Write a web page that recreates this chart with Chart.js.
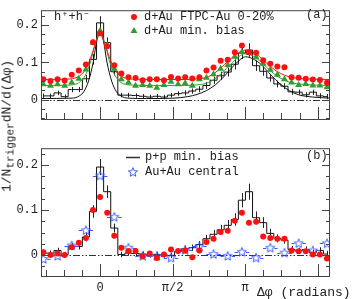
<!DOCTYPE html>
<html>
<head>
<meta charset="utf-8">
<script src="https://cdn.jsdelivr.net/npm/chart.js@4.4.0/dist/chart.umd.min.js"></script>
<style>
  html, body { margin: 0; padding: 0; background: #fff; }
  #wrap { position: relative; width: 352px; height: 299px; overflow: hidden; }
  #panelA { position: absolute; left: 0; top: 0; }
  #panelB { position: absolute; left: 0; top: 138px; }
  #ytitle {
    position: absolute; left: 8px; top: 126px;
    transform: translate(-50%, -50%) rotate(-90deg);
    white-space: nowrap; font: 13px "Liberation Mono", monospace; color: #222;
  }
  #ytitle sub { font-size: 11px; vertical-align: -3px; }
</style>
</head>
<body>
<div id="wrap">
  <canvas id="panelA" width="352" height="144"></canvas>
  <canvas id="panelB" width="352" height="161"></canvas>
  <div id="ytitle">1/N<sub>trigger</sub>dN/d(Δφ)</div>
</div>
<script>
// bins in Δφ (rad), 41 bins, centre of bin 8 is at 0
const BIN = 0.1536;
const phi = Array.from({ length: 41 }, (_, i) => +((i - 8) * BIN).toFixed(4));

// panel (a)
const dAuCentral = [0.055,0.050,0.055,0.051,0.067,0.078,0.094,0.154,0.178,
  0.143,0.092,0.070,0.060,0.058,0.052,0.055,0.055,0.052,0.061,
  0.057,0.060,0.057,0.060,0.078,0.086,0.104,0.107,0.127,0.145,
  0.127,0.126,0.106,0.096,0.089,0.087,0.060,0.059,0.056,0.054,0.053,0.045];
const dAuMinBias = [0.041,0.037,0.041,0.037,0.046,0.056,0.081,0.153,0.185,
  0.146,0.083,0.055,0.046,0.037,0.039,0.037,0.032,0.039,0.048,
  0.041,0.044,0.037,0.055,0.059,0.068,0.083,0.093,0.115,0.128,
  0.125,0.114,0.096,0.080,0.067,0.055,0.046,0.039,0.042,0.038,0.038,0.033];
const ppA = [0.010,0.010,0.018,0.008,0.027,0.027,0.056,0.108,0.206,
  0.153,0.075,0.012,0.012,0.011,0.009,0.007,0.009,0.007,0.012,
  0.016,0.018,0.023,0.028,0.038,0.052,0.064,0.074,0.095,0.125,
  0.133,0.091,0.076,0.058,0.042,0.036,0.021,0.020,0.013,0.020,0.010,0.008];
const ppErr = [0.006,0.006,0.006,0.006,0.007,0.007,0.010,0.014,0.018,
  0.014,0.010,0.006,0.006,0.006,0.006,0.006,0.006,0.006,0.006,
  0.006,0.007,0.007,0.008,0.009,0.010,0.011,0.012,0.014,0.016,
  0.018,0.014,0.012,0.010,0.009,0.008,0.008,0.007,0.007,0.007,0.007,0.007];

// fit curves
const fitPhi = [-1.3,-0.7,-0.5,-0.4,-0.3,-0.2,-0.1,0,0.1,0.2,0.3,0.4,0.5,0.7,1.2,1.7,
  2.2,2.4,2.55,2.7,2.85,3.0,3.14,3.3,3.45,3.6,3.75,3.9,4.1,4.4,5.0];
const fitCentral = [0.054,0.055,0.060,0.068,0.084,0.114,0.150,0.175,0.150,0.114,0.084,0.068,0.060,0.055,0.054,0.054,
  0.057,0.065,0.078,0.095,0.112,0.126,0.133,0.128,0.116,0.099,0.083,0.071,0.061,0.056,0.054];
const fitMinBias = [0.038,0.039,0.043,0.052,0.070,0.105,0.152,0.182,0.152,0.105,0.070,0.052,0.043,0.039,0.038,0.038,
  0.041,0.049,0.062,0.079,0.098,0.115,0.123,0.118,0.105,0.088,0.071,0.058,0.047,0.041,0.038];
const fitPPPhi = [-1.3,-0.6,-0.45,-0.35,-0.25,-0.15,-0.07,0,0.07,0.15,0.25,0.35,0.45,0.6,1.0,1.6,
  1.9,2.1,2.3,2.5,2.7,2.9,3.05,3.15,3.3,3.5,3.7,3.9,4.1,4.3,4.6,5.0];
const fitPP = [0.003,0.004,0.010,0.022,0.050,0.100,0.160,0.190,0.160,0.100,0.050,0.022,0.010,0.004,0.003,0.004,
  0.008,0.014,0.024,0.040,0.064,0.092,0.109,0.115,0.110,0.093,0.066,0.042,0.024,0.013,0.007,0.004];

// panel (b)
const ppB = [0.004,0.004,0.010,0.001,0.019,0.019,0.040,0.097,0.196,
  0.141,0.060,0.001,0.004,0.003,0.002,0.000,0.001,0.000,-0.001,
  0.008,0.014,0.016,0.023,0.036,0.046,0.056,0.066,0.079,0.122,
  0.141,0.083,0.072,0.048,0.037,0.033,0.012,0.009,0.012,0.005,0.010,0.002];
const dAuB = [0.006,0.000,0.003,0.000,0.017,0.027,0.038,0.100,0.129,
  0.094,0.043,0.016,0.0085,0.0085,-0.003,0.003,-0.007,0.001,0.012,
  0.0085,0.010,-0.005,0.010,0.029,0.036,0.051,0.054,0.076,0.094,
  0.072,0.074,0.041,0.038,0.036,0.036,0.010,0.008,0.008,0.001,0.001,-0.008];
// Au+Au central uses double-width bins
const auPhi = phi.filter((_, i) => i % 2 === 0);
const auAuCentral = [-0.009,-0.002,0.021,0.055,0.177,0.085,0.016,-0.002,-0.002,-0.006,
  0.011,0.019,0.002,-0.002,0.007,-0.006,0.016,0.005,0.026,0.010,0.026];

const yLabels = [0, 0.1, 0.2];
const xLabels = [0, Math.PI / 2, Math.PI];
const xLabelText = ['0', 'π/2', 'π'];
const X_MIN = -1.28, X_MAX = 4.98;

const RED = '#ff1010', GREEN = '#2e9e2e', BLUE = '#3a5cff', INK = '#222';
Chart.defaults.font.family = '"Liberation Mono", "DejaVu Sans Mono", monospace';
Chart.defaults.font.size = 12;
Chart.defaults.color = INK;

// open five-pointed star for Au+Au
const starImg = (function() {
  const c = document.createElement('canvas');
  c.width = 12; c.height = 12;
  const g = c.getContext('2d');
  g.strokeStyle = BLUE; g.lineWidth = 1;
  g.beginPath();
  for (let i = 0; i < 10; i++) {
    const r = i % 2 ? 2.1 : 4.8;
    const a = -Math.PI / 2 + i * Math.PI / 5;
    const px = 6 + r * Math.cos(a), py = 6.4 + r * Math.sin(a);
    if (i) g.lineTo(px, py); else g.moveTo(px, py);
  }
  g.closePath(); g.stroke();
  return c;
})();

const xy = (xs, ys) => xs.map((x, i) => ({ x: x, y: ys[i] }));

// error bars drawn under each dataset
const errorBars = {
  id: 'errorBars',
  beforeDatasetDraw(chart, args) {
    const ds = chart.data.datasets[args.index];
    if (!ds.yErr && !ds.xErr) return;
    const ctx = chart.ctx, a = chart.chartArea;
    const xs = chart.scales.x, ys = chart.scales.y;
    ctx.save();
    ctx.beginPath(); ctx.rect(a.left, a.top, a.right - a.left, a.bottom - a.top); ctx.clip();
    ctx.strokeStyle = ds.errColor; ctx.lineWidth = 1;
    args.meta.data.forEach((pt, i) => {
      const d = ds.data[i];
      if (ds.yErr) {
        const e = Array.isArray(ds.yErr) ? ds.yErr[i] : ds.yErr;
        ctx.beginPath();
        ctx.moveTo(Math.round(pt.x) + 0.5, ys.getPixelForValue(d.y - e));
        ctx.lineTo(Math.round(pt.x) + 0.5, ys.getPixelForValue(d.y + e));
        ctx.stroke();
      }
      if (ds.xErr) {
        const x1 = xs.getPixelForValue(d.x - ds.xErr), x2 = xs.getPixelForValue(d.x + ds.xErr);
        const yy = Math.round(pt.y) + 0.5;
        ctx.beginPath();
        ctx.moveTo(x1, yy); ctx.lineTo(pt.x - 4, yy);
        ctx.moveTo(pt.x + 4, yy); ctx.lineTo(x2, yy);
        ctx.stroke();
      }
    });
    ctx.restore();
  }
};

// frame, inward ticks, zero line and labels
const frame = {
  id: 'frame',
  beforeDatasetsDraw(chart) {
    const ctx = chart.ctx, a = chart.chartArea;
    const y0 = Math.round(chart.scales.y.getPixelForValue(0)) + 0.5;
    ctx.save();
    ctx.strokeStyle = '#333'; ctx.lineWidth = 1;
    ctx.setLineDash([7, 2, 1.5, 2, 1.5, 2]);
    ctx.beginPath(); ctx.moveTo(a.left, y0); ctx.lineTo(a.right, y0); ctx.stroke();
    ctx.restore();
  },
  afterDraw(chart, args, opts) {
    const ctx = chart.ctx, a = chart.chartArea;
    const xs = chart.scales.x, ys = chart.scales.y;
    ctx.save();
    ctx.strokeStyle = '#444'; ctx.lineWidth = 1;
    ctx.strokeRect(a.left + 0.5, a.top + 0.5, a.right - a.left - 1, a.bottom - a.top);
    ctx.beginPath();
    for (let v = Math.ceil(ys.min / 0.025) * 0.025; v <= ys.max; v += 0.025) {
      const py = Math.round(ys.getPixelForValue(v)) + 0.5;
      const major = Math.abs(v / 0.1 - Math.round(v / 0.1)) < 1e-6;
      const len = major ? 8 : 4;
      ctx.moveTo(a.left, py); ctx.lineTo(a.left + len, py);
      ctx.moveTo(a.right, py); ctx.lineTo(a.right - len, py);
    }
    const step = Math.PI / 8;
    for (let n = Math.ceil(xs.min / step); n * step <= xs.max; n++) {
      const px = Math.round(xs.getPixelForValue(n * step)) + 0.5;
      const len = n % 4 === 0 ? 12 : 6;
      ctx.moveTo(px, a.bottom); ctx.lineTo(px, a.bottom - len);
    }
    ctx.stroke();

    ctx.fillStyle = INK;
    ctx.font = '12px "Liberation Mono", monospace';
    ctx.textBaseline = 'middle';
    if (opts.panel === 'a') {
      ctx.fillText('h⁺+h⁻', 54, 17);
      ctx.fillText('(a)', 306, 15);
      ctx.fillStyle = RED;
      Chart.helpers.drawPoint(ctx, { pointStyle: 'circle', radius: 3, borderWidth: 0 }, 134, 17);
      ctx.fillStyle = GREEN;
      Chart.helpers.drawPoint(ctx, { pointStyle: 'triangle', radius: 4, borderWidth: 0 }, 134, 31);
      ctx.fillStyle = INK;
      ctx.fillText('d+Au FTPC-Au 0-20%', 144, 17);
      ctx.fillText('d+Au min. bias', 144, 31);
    } else {
      ctx.fillText('(b)', 306, 18);
      ctx.strokeStyle = '#333'; ctx.lineWidth = 1.5;
      ctx.beginPath(); ctx.moveTo(126, 19.5); ctx.lineTo(140, 19.5); ctx.stroke();
      ctx.drawImage(starImg, 127, 28);
      ctx.fillText('p+p min. bias', 145, 19);
      ctx.fillText('Au+Au central', 145, 34);
      ctx.font = '13px "Liberation Mono", monospace';
      ctx.fillText('Δφ (radians)', 257, 155);
    }
    ctx.restore();
  }
};

function panelOptions(panel, yMin, yMax) {
  return {
    responsive: false,
    animation: false,
    events: [],
    layout: { padding: panel === 'a'
      ? { left: 0, right: 22, top: 2, bottom: 2 }
      : { left: 0, right: 22, top: 4, bottom: 0 } },
    plugins: {
      legend: { display: false },
      tooltip: { enabled: false },
      frame: { panel: panel }
    },
    scales: {
      x: {
        type: 'linear', min: X_MIN, max: X_MAX,
        display: panel === 'b',
        grid: { display: false, drawTicks: false },
        border: { display: false },
        ticks: {
          padding: 5, autoSkip: false, maxRotation: 0,
          callback: (v) => xLabelText[xLabels.indexOf(v)]
        },
        afterBuildTicks: (s) => { s.ticks = xLabels.map(v => ({ value: v })); },
        afterFit: (s) => { s.height = 23; }
      },
      y: {
        type: 'linear', min: yMin, max: yMax,
        grid: { display: false, drawTicks: false },
        border: { display: false },
        ticks: { padding: 3, callback: (v) => v === 0 ? '0' : v.toFixed(1) },
        afterBuildTicks: (s) => { s.ticks = yLabels.map(v => ({ value: v })); },
        afterFit: (s) => { s.width = 41; }
      }
    }
  };
}

const pointSet = (label, data, style, color, r, order, extra) => Object.assign({
  label: label, data: data, showLine: false, pointStyle: style,
  pointRadius: r, backgroundColor: color, borderColor: color, borderWidth: 0, order: order
}, extra || {});
const lineSet = (label, data, color, order, extra) => Object.assign({
  label: label, data: data, showLine: true, pointRadius: 0, borderColor: color,
  borderWidth: 1, fill: false, order: order
}, extra || {});

new Chart(document.getElementById('panelA'), {
  type: 'scatter',
  data: {
    datasets: [
      pointSet('d+Au FTPC-Au 0-20%', xy(phi, dAuCentral), 'circle', RED, 3, 0,
        { yErr: 0.005, errColor: 'rgba(255,60,60,0.7)' }),
      pointSet('d+Au min. bias', xy(phi, dAuMinBias), 'triangle', GREEN, 4, 1),
      lineSet('fit FTPC-Au 0-20%', xy(fitPhi, fitCentral), RED, 2, { cubicInterpolationMode: 'monotone' }),
      lineSet('fit min. bias', xy(fitPhi, fitMinBias), GREEN, 3, { cubicInterpolationMode: 'monotone' }),
      lineSet('fit p+p', xy(fitPPPhi, fitPP), '#111', 4, { cubicInterpolationMode: 'monotone' }),
      lineSet('p+p', xy(phi, ppA), '#111', 5, { stepped: 'middle', yErr: ppErr, errColor: '#222' })
    ]
  },
  options: panelOptions('a', -0.052, 0.24),
  plugins: [errorBars, frame]
});

new Chart(document.getElementById('panelB'), {
  type: 'scatter',
  data: {
    datasets: [
      pointSet('d+Au', xy(phi, dAuB), 'circle', RED, 3, 0,
        { yErr: 0.006, errColor: 'rgba(255,60,60,0.7)' }),
      pointSet('Au+Au central', xy(auPhi, auAuCentral), starImg, BLUE, 5, 1,
        { xErr: Math.PI / 20, errColor: BLUE }),
      lineSet('p+p min. bias', xy(phi, ppB), '#111', 5, { stepped: 'middle', yErr: ppErr, errColor: '#222' })
    ]
  },
  options: panelOptions('b', -0.047, 0.238),
  plugins: [errorBars, frame]
});
</script>
</body>
</html>
